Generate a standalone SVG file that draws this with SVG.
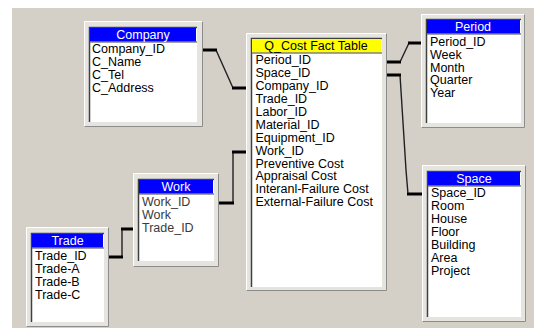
<svg xmlns="http://www.w3.org/2000/svg" width="534" height="329" viewBox="0 0 534 329">
<style>
  text { font-family: "Liberation Sans", Arial, sans-serif; font-size: 12.5px; }
  .frame { fill: #e6e4df; }
  .hi { fill: none; stroke: #ffffff; stroke-width: 1; }
  .lo { fill: none; stroke: #8c8c8c; stroke-width: 1; }
  .well { fill: #ffffff; }
  .sunk { fill: none; stroke: #404040; stroke-width: 1.5; }
  .hdr { fill: #0000ff; }
  .hdrY { fill: #ffff00; }
  .sep { stroke: #808080; stroke-width: 1.5; }
  .ht { fill: #ffffff; text-anchor: middle; }
  .htY { fill: #000000; text-anchor: middle; }
  .f { fill: #000000; }
  .fg { fill: #3a3a3a; }
  .thick { fill: none; stroke: #000000; stroke-width: 3; }
  .thin { fill: none; stroke: #202020; stroke-width: 1.4; }
</style>
<rect x="12" y="8" width="522" height="320" fill="#d4d0c8"/>

<g id="connectors">
  <path class="thin" d="M216,50 L233,88"/>
  <path class="thick" d="M203,50 H217 M232,88 H247"/>
  <path class="thin" d="M400,62 L409,43"/>
  <path class="thick" d="M387,62 H401 M408,43 H421"/>
  <path class="thin" d="M400,75 L406,170 L408,194"/>
  <path class="thick" d="M387,75 H401 M407,194 H422"/>
  <path class="thin" d="M233,203 V152"/>
  <path class="thick" d="M219,203 H234 M232,152 H247"/>
  <path class="thin" d="M122,257 V229"/>
  <path class="thick" d="M109,257 H123 M121,229 H133"/>
</g>

<g id="company">
  <rect class="frame" x="84" y="21" width="119" height="106"/>
  <path class="hi" d="M84.5,126.5 V21.5 H202.5"/>
  <path class="lo" d="M202.5,21.5 V126.5 H84.5"/>
  <rect class="well" x="89" y="27" width="108" height="95"/>
  <path class="sunk" d="M89.5,122 V27.5 H197"/>
  <rect class="hdr" x="90" y="28" width="106" height="14"/>
  <line class="sep" x1="90" y1="42" x2="197" y2="42"/>
  <text class="ht" x="143" y="39">Company</text>
  <text class="f" x="92" y="53.3">Company_ID</text>
  <text class="f" x="92" y="66.2">C_Name</text>
  <text class="f" x="92" y="79.1">C_Tel</text>
  <text class="f" x="92" y="92">C_Address</text>
</g>

<g id="fact">
  <rect class="frame" x="246" y="33" width="141" height="258"/>
  <path class="hi" d="M246.5,290.5 V33.5 H386.5"/>
  <path class="lo" d="M386.5,33.5 V290.5 H246.5"/>
  <rect class="well" x="251" y="38" width="131" height="249"/>
  <path class="sunk" d="M251.5,287 V38.5 H382"/>
  <rect class="hdrY" x="252" y="39" width="129" height="14"/>
  <line class="sep" x1="252" y1="53" x2="382" y2="53"/>
  <text class="htY" x="316" y="49.5">Q_Cost Fact Table</text>
  <text class="f" x="255.5" y="64.3">Period_ID</text>
  <text class="f" x="255.5" y="77.2">Space_ID</text>
  <text class="f" x="255.5" y="90.1">Company_ID</text>
  <text class="f" x="255.5" y="103.0">Trade_ID</text>
  <text class="f" x="255.5" y="115.9">Labor_ID</text>
  <text class="f" x="255.5" y="128.8">Material_ID</text>
  <text class="f" x="255.5" y="141.7">Equipment_ID</text>
  <text class="f" x="255.5" y="154.6">Work_ID</text>
  <text class="f" x="255.5" y="167.5">Preventive Cost</text>
  <text class="f" x="255.5" y="180.4">Appraisal Cost</text>
  <text class="f" x="255.5" y="193.3">Interanl-Failure Cost</text>
  <text class="f" x="255.5" y="206.2">External-Failure Cost</text>
</g>

<g id="period">
  <rect class="frame" x="421" y="14" width="104" height="114"/>
  <path class="hi" d="M421.5,127.5 V14.5 H524.5"/>
  <path class="lo" d="M524.5,14.5 V127.5 H421.5"/>
  <rect class="well" x="426" y="19" width="95" height="104"/>
  <path class="sunk" d="M426.5,123 V19.5 H521"/>
  <rect class="hdr" x="427" y="20" width="93" height="14"/>
  <line class="sep" x1="427" y1="34" x2="521" y2="34"/>
  <text class="ht" x="473" y="31">Period</text>
  <text class="f" x="430" y="45.7">Period_ID</text>
  <text class="f" x="430" y="58.6">Week</text>
  <text class="f" x="430" y="71.5">Month</text>
  <text class="f" x="430" y="84.4">Quarter</text>
  <text class="f" x="430" y="97.3">Year</text>
</g>

<g id="space">
  <rect class="frame" x="422" y="165" width="104" height="157"/>
  <path class="hi" d="M422.5,321.5 V165.5 H525.5"/>
  <path class="lo" d="M525.5,165.5 V321.5 H422.5"/>
  <rect class="well" x="427" y="171" width="94" height="146"/>
  <path class="sunk" d="M427.5,317 V171.5 H521"/>
  <rect class="hdr" x="428" y="172" width="92" height="14"/>
  <line class="sep" x1="428" y1="186" x2="521" y2="186"/>
  <text class="ht" x="474" y="183">Space</text>
  <text class="f" x="431" y="197.3">Space_ID</text>
  <text class="f" x="431" y="210.2">Room</text>
  <text class="f" x="431" y="223.1">House</text>
  <text class="f" x="431" y="236">Floor</text>
  <text class="f" x="431" y="248.9">Building</text>
  <text class="f" x="431" y="261.8">Area</text>
  <text class="f" x="431" y="274.7">Project</text>
</g>

<g id="work">
  <rect class="frame" x="133" y="173" width="86" height="94"/>
  <path class="hi" d="M133.5,266.5 V173.5 H218.5"/>
  <path class="lo" d="M218.5,173.5 V266.5 H133.5"/>
  <rect class="well" x="138" y="179" width="76" height="82"/>
  <path class="sunk" d="M138.5,261 V179.5 H214"/>
  <rect class="hdr" x="139" y="180" width="74" height="14"/>
  <line class="sep" x1="139" y1="194" x2="214" y2="194"/>
  <text class="ht" x="176" y="191">Work</text>
  <text class="fg" x="142" y="206">Work_ID</text>
  <text class="fg" x="142" y="218.9">Work</text>
  <text class="fg" x="142" y="231.8">Trade_ID</text>
</g>

<g id="trade">
  <rect class="frame" x="26" y="227" width="83" height="100"/>
  <path class="hi" d="M26.5,326.5 V227.5 H108.5"/>
  <path class="lo" d="M108.5,227.5 V326.5 H26.5"/>
  <rect class="well" x="31" y="233" width="73" height="89"/>
  <path class="sunk" d="M31.5,322 V233.5 H104"/>
  <rect class="hdr" x="32" y="234" width="71" height="14"/>
  <line class="sep" x1="32" y1="248" x2="104" y2="248"/>
  <text class="ht" x="67.5" y="245">Trade</text>
  <text class="f" x="35" y="260">Trade_ID</text>
  <text class="f" x="35" y="272.9">Trade-A</text>
  <text class="f" x="35" y="285.8">Trade-B</text>
  <text class="f" x="35" y="298.7">Trade-C</text>
</g>
</svg>
